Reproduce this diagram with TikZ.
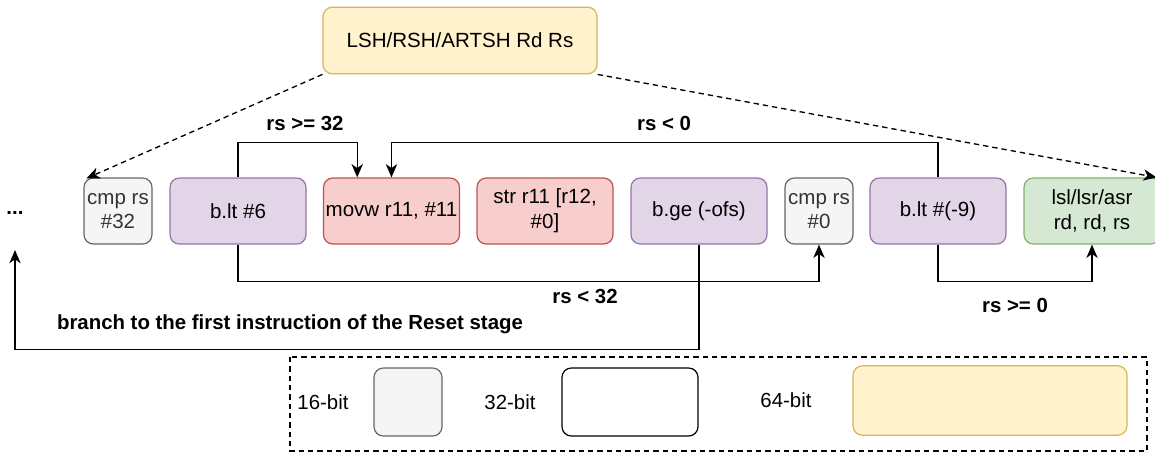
\documentclass[tikz,border=0pt]{standalone}
\usepackage{fontspec}
\setmainfont{Liberation Sans}
\usepackage{tikz}
\usetikzlibrary{arrows.meta,calc}
\definecolor{grayfill}{HTML}{F5F5F5}
\definecolor{grayline}{HTML}{666666}
\definecolor{graytext}{HTML}{333333}
\definecolor{purplefill}{HTML}{E1D5E7}
\definecolor{purpleline}{HTML}{9673A6}
\definecolor{redfill}{HTML}{F8CECC}
\definecolor{redline}{HTML}{B85450}
\definecolor{greenfill}{HTML}{D5E8D4}
\definecolor{greenline}{HTML}{82B366}
\definecolor{yellowfill}{HTML}{FFF2CC}
\definecolor{yellowline}{HTML}{D6B656}

\begin{document}
\begin{tikzpicture}[x=0.75pt,y=-0.75pt,
        instr/.style={draw,rounded corners=7pt,line width=0.9pt,minimum height=49.5pt,inner sep=0.5pt,align=center,font=\fontsize{15.4}{18.5}\selectfont},
        wide/.style={instr,minimum width=102pt},
        narrow/.style={instr,minimum width=51pt},
        cmpbox/.style={narrow,fill=grayfill,draw=grayline,text=graytext},
        brbox/.style={wide,fill=purplefill,draw=purpleline},
        ldbox/.style={wide,fill=redfill,draw=redline},
        shbox/.style={wide,fill=greenfill,draw=greenline},
        lbl/.style={font=\fontsize{15.3}{18}\selectfont\bfseries,inner sep=0pt},
        txt/.style={font=\fontsize{15.3}{18}\selectfont,inner sep=0pt},
        dash line/.style={line width=1pt,dash pattern=on 4pt off 3pt},
        flow/.style={line width=1pt,-{Stealth[length=10pt,width=8.5pt,inset=3pt]}}]
            \useasboundingbox (0,0) rectangle (1155,455);
            \node[instr,fill=yellowfill,draw=yellowline,minimum width=205.5pt,minimum height=50pt] (op) at (460,40.5) {LSH/RSH/ARTSH Rd Rs};
            \node[lbl] (dots) at (15,213) {...};
            \coordinate (reset) at (15,250);
            \node[cmpbox] (cmp32) at (118,211) {cmp rs\\\#32};
            \node[brbox] (blt6) at (238,211) {b.lt \#6};
            \node[ldbox] (movw) at (391.5,211) {movw r11, \#11};
            \node[ldbox] (str) at (545,211) {str r11 [r12,\\\#0]};
            \node[brbox] (bge) at (699,211) {b.ge (-ofs)};
            \node[cmpbox] (cmp0) at (819,211) {cmp rs\\\#0};
            \node[brbox] (blt9) at (938,211) {b.lt \#(-9)};
            \node[shbox] (lsl) at (1092,211) {lsl/lsr/asr\\rd, rd, rs};
            \draw[flow,dash line] (op.south west) -- ($(cmp32.north west)+(3,1)$);
            \draw[flow,dash line] (op.south east) -- ($(lsl.north east)+(-4,0)$);
            \draw[flow] (blt6.north) -- ++(0,-35) -| ($(movw.north west)!0.25!(movw.north east)$);
            \draw[flow] (blt9.north) -- ++(0,-35) -| (movw.north);
            \draw[flow] (blt6.south) -- ++(0,37) -| (cmp0.south);
            \draw[flow] (blt9.south) -- ++(0,37) -| (lsl.south);
            \draw[flow] (bge.south) -- ++(0,105) -| (reset);
            \node[lbl] (ge32) at (305,123) {rs >= 32};
            \node[lbl] (lt0) at (664,123) {rs < 0};
            \node[lbl] (lt32) at (585,296) {rs < 32};
            \node[lbl] (ge0) at (1015,305) {rs >= 0};
            \node[lbl] (branch) at (290,324) {branch to the first instruction of the Reset stage};
            \draw[dash line] (290,357) rectangle (1147,451);
            \node[txt] (b16) at (323,402) {16-bit};
            \node[draw=grayline,fill=grayfill,rounded corners=7pt,line width=0.9pt,minimum width=51pt,minimum height=51pt] (k16) at (408,402) {};
            \node[txt] (b32) at (510,402) {32-bit};
            \node[draw,rounded corners=7pt,line width=0.9pt,minimum width=102pt,minimum height=51pt] (k32) at (630,402) {};
            \node[txt] (b64) at (786,400) {64-bit};
            \node[draw=yellowline,fill=yellowfill,rounded corners=7pt,line width=0.9pt,minimum width=205.5pt,minimum height=52pt] (k64) at (990,400.5) {};
\end{tikzpicture}
\end{document}
